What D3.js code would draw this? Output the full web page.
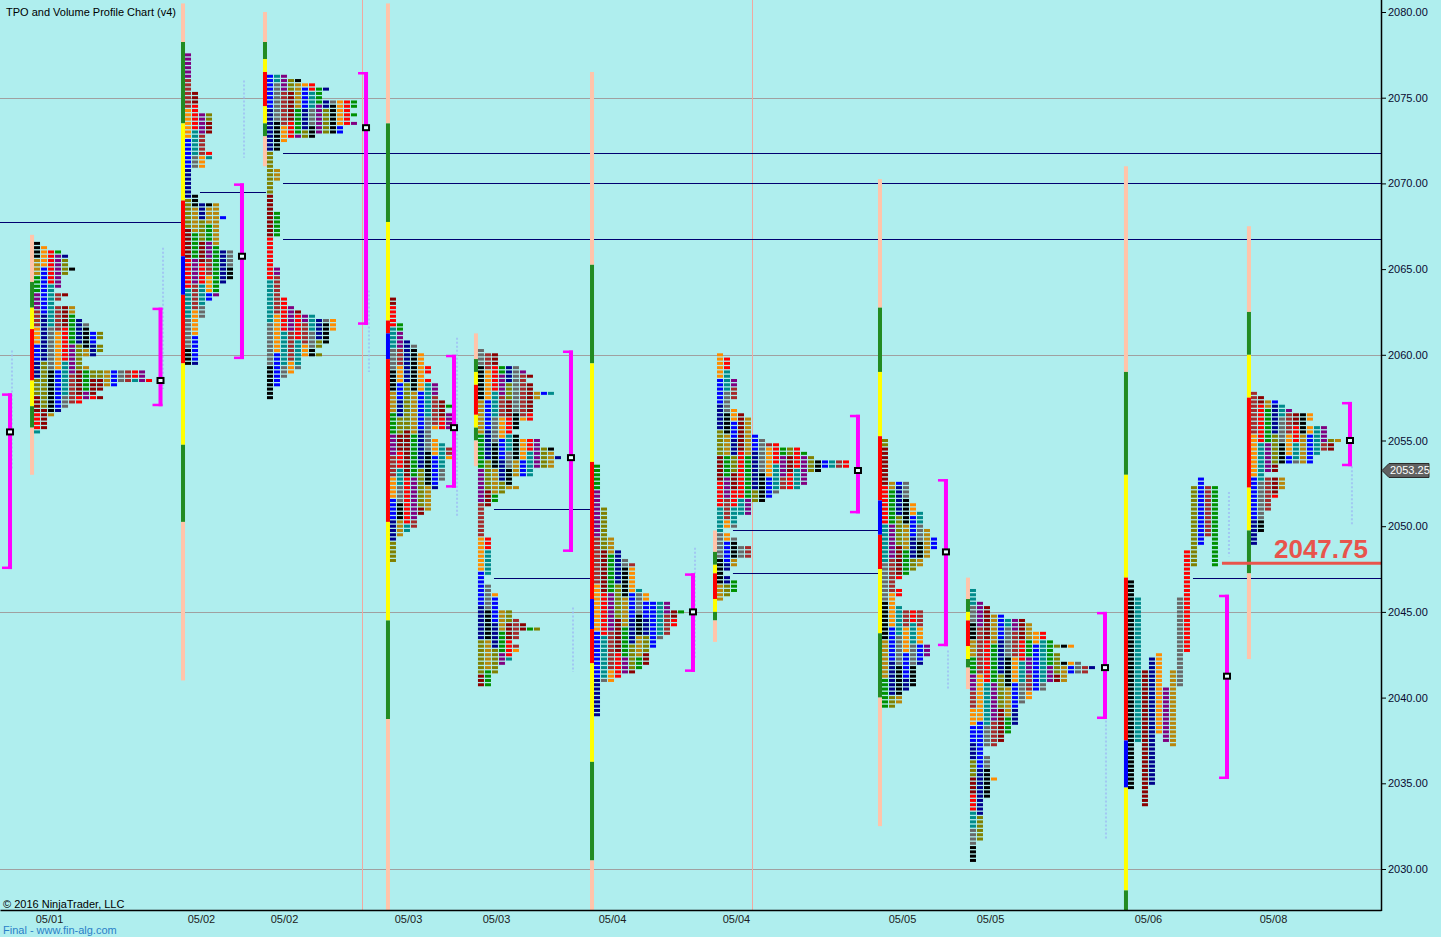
<!DOCTYPE html>
<html><head><meta charset="utf-8">
<script src="https://cdn.jsdelivr.net/npm/d3@7"></script>
<style>
html,body{margin:0;padding:0;background:#AFEEEE;overflow:hidden}
svg{display:block}
text{font-family:"Liberation Sans",Arial,sans-serif}
</style>
</head><body>
<svg id="chart" width="1441" height="937"></svg>
<script>
// ---------------- DATA ----------------
const xTickPos    = [7.0, 28.71, 40.57, 58.29, 70.86, 87.43, 105.14, 128.86, 141.43, 164.0, 181.86];
const xTickLabels = ['05/01','05/02','05/02','05/03','05/03','05/04','05/04','05/05','05/05','05/06','05/08'];
const yTicks      = [2030, 2035, 2040, 2045, 2050, 2055, 2060, 2065, 2070, 2075, 2080];
const gridPrices  = [2030, 2045, 2060, 2075];
const dividerSlots = [51.71, 107.43];

// session position (bar left, in TPO column units)
const sessionSlot = [4.29, 25.86, 37.57, 55.14, 67.71, 84.29, 101.86, 125.43, 138.0, 160.57, 178.14];
// top price of each collapsed profile
const profileTop  = [2066.5, 2077.5, 2076.25, 2063.25, 2060.25, 2053.5, 2060.0, 2055.0, 2046.25, null, 2057.75];

// TPO row widths (number of letters per 0.25 price row, from top down)
const rows1 = [1,2,4,5,5,5,6,5,4,4, 4,3,5,4,3,6,6,6,7,8, 8,10,10,9,10,10,9,7,7,8, 16,16,17,12,10,9,10,7,5,4, 3,2,2,2,1];
const rows2 = [1,1,1,1,1,1,1,1,1, 2,2,2,2,2, 4,4,4,4,4, 3,3,3,3, 4,4, 3,3, 1,1,1,1,1,1, 2,2, 5,5,5, 6, 5,5,5,5,5,5,5, 7,7,7,7,7,7,7, 6, 5,5,5, 4, 3,3,3,3, 2,2,2,2,2,2,2,2,2,2,2];
const rows3 = [3,5,7,9,8,8,13,13,12,13, 12,13,11,11,7,3,2,2,1,1, 1,1,2,2,2,1,1,1,1,1, 1,1,2,2,2,2,2,2,1,1, 1,1,1,1,1,2,2,2,2,2, 2,2,3,3,4,5,7,10,10,10, 9,9,9,8,7,8,5,5,5,4, 3,2,2,1,1,1];
const rows4 = [1,1,1,1,1,1,2,2,2,2, 3,4,4,5,5,5,6,6,5,6, 7,7,7,7,8,9,8,9,9,9, 9,6,6,7,8,9,9,9,8,8, 8,8,8,7,7,6,6,6,6,6, 5,4,4,4,3,2,1,1,1,1, 1,1];
const rows5 = [1,3,3,3,6,7,8,7,8,8, 11,9,8,8,8,8,8,6,6,5, 6,9,9,11,11,12,11,11,8,8, 5,5,6,4,3,3,2,1,1,1, 1,1,1,1,2,2,2,2,2,2, 2,2,2,1,1,2,2,3,3,3, 3,5,5,6,7,9,6,6,5,6, 6,5,5,4,3,3,2,2,2];
const rows6 = [1,1,1,1,1,1,1,1,1,1, 2,2,2,2,2,2,2, 3,3,3, 4,4, 5, 6,6,6,6,6,6, 7, 8,8, 11,11, 13, 12,12,12, 11,11, 10, 9,9, 8,8,8,8, 7, 6, 4, 3, 1,1,1,1,1,1,1,1];
const rows7 = [1,2,2,2,2,2,3,3,3,3, 3,2,2,3,4,5,5,5,5,6, 7,9,12,13,14,19,19,15,13,13, 13,12,9,8,7,5,5,5,3,3, 3,1,2,3,3,5,5,5,3,3, 2,1,2,3,3,3,2,1];
const rows8 = [1,1,1,1,1,1,1,1,1,1, 4,4,4,4,4, 5,5, 6,6,6,6, 7,7, 8,8,8, 7,7, 6,6, 5, 4, 3, 2,2, 3,3, 2,2, 3, 6,6,6,6,6,6,6,6, 7,7,7, 6,6, 5,5,5,5,5, 4, 3,3,3, 2];
const rows9 = [1,1,1,2,3,3,5,8,9,9, 11,11,12,15,12,13,13,16,18,17, 14,14,11,11,9,9,8,7,7,7, 7,7,6,6,5,5,4,2,2,3, 3,3,3,3,4,3,3,3,3,2, 2,2,2,2,2,2,2,2,2,1, 1,1,1,1];
const rows11 = [1,2,4,5,6,9,9,8,11,11, 11,13,12,12,10,9,9,4,4,2, 5,5,5,4,4,3,3,3,2,2, 2,2,2,1,1,1];
// 05/06 profile drawn uncollapsed: one column per period [high, low]
const cols10High = [2046.75, 2045.75, 2041.5, 2042.25, 2042.5, 2040.5, 2041.5, 2045.75, 2048.5, 2052.25, 2052.75, 2052.25, 2052.25];
const cols10Low  = [2034.75, 2037.5, 2033.75, 2035.0, 2038.0, 2037.5, 2037.25, 2040.75, 2042.75, 2047.75, 2049.0, 2049.5, 2047.75];

// session range bars: [start price, segment colour key] ... last entry = end price
const bar1 = [[2067.0,'P'],[2064.25,'G'],[2062.75,'Y'],[2061.5,'R'],[2058.5,'Y'],[2057.0,'G'],[2055.75,'P'],[2053.0,null]];
const bar2 = [[2080.5,'P'],[2078.25,'G'],[2073.5,'Y'],[2069.0,'R'],[2065.75,'B'],[2063.5,'R'],[2059.5,'Y'],[2054.75,'G'],[2050.25,'P'],[2041.0,null]];
const bar3 = [[2080.0,'P'],[2078.25,'G'],[2077.25,'Y'],[2076.5,'R'],[2074.5,'Y'],[2073.5,'G'],[2072.75,'P'],[2071.0,null]];
const bar4 = [[2080.5,'P'],[2073.5,'G'],[2067.75,'Y'],[2062.0,'R'],[2061.25,'B'],[2059.75,'R'],[2050.25,'Y'],[2044.5,'G'],[2038.75,'P'],[2026.0,null]];
const bar5 = [[2061.25,'P'],[2059.75,'G'],[2059.0,'Y'],[2058.25,'R'],[2056.5,'Y'],[2055.75,'G'],[2055.0,'P'],[2053.5,null]];
const bar6 = [[2076.5,'P'],[2065.25,'G'],[2059.5,'Y'],[2053.75,'R'],[2045.75,'B'],[2044.0,'R'],[2042.0,'Y'],[2036.25,'G'],[2030.5,'P'],[2026.0,null]];
const bar7 = [[2049.75,'P'],[2048.5,'G'],[2047.75,'Y'],[2047.25,'R'],[2045.75,'Y'],[2045.0,'G'],[2044.5,'P'],[2043.25,null]];
const bar8 = [[2070.25,'P'],[2062.75,'G'],[2059.0,'Y'],[2055.25,'R'],[2051.5,'B'],[2049.5,'R'],[2047.5,'Y'],[2043.75,'G'],[2040.0,'P'],[2032.5,null]];
const bar9 = [[2047.0,'P'],[2045.75,'G'],[2045.0,'Y'],[2044.5,'R'],[2043.0,'Y'],[2042.25,'G'],[2041.75,'P'],[2040.5,null]];
const bar10 = [[2071.0,'P'],[2059.0,'G'],[2053.0,'Y'],[2047.0,'R'],[2037.5,'B'],[2034.75,'Y'],[2028.75,'G'],[2026.0,null]];
const bar11 = [[2067.5,'P'],[2062.5,'G'],[2060.0,'Y'],[2057.5,'R'],[2052.25,'Y'],[2049.75,'G'],[2047.25,'P'],[2042.25,null]];

// value-area brackets
const bracketSlot = [1.43, 22.93, 34.57, 52.29, 64.86, 81.57, 99.0, 122.57, 135.14, 157.86, 175.29, 192.86];
const bracketHigh = [2057.75, 2062.75, 2070.0, 2076.5, 2060.0, 2060.25, 2047.25, 2056.5, 2052.75, 2045.0, 2046.0, 2057.25];
const bracketLow  = [2047.5, 2057.0, 2059.75, 2061.75, 2052.25, 2048.5, 2041.5, 2050.75, 2043.0, 2038.75, 2035.25, 2053.5];
const bracketPoc  = [2055.5, 2058.5, 2065.75, 2073.25, 2055.75, 2054.0, 2045.0, 2053.25, 2048.5, 2041.75, 2041.25, 2055.0];

// naked POC lines: [from slot, to slot (null = right edge), price]
const pocLines = [[0, 26.14, 2067.75],[28.57, 38.0, 2069.5],[40.43, null, 2071.75],[40.43, null, 2070.0],[40.43, null, 2066.75],
                  [70.57, 84.57, 2051.0],[70.57, 84.57, 2047.0],[104.71, 125.71, 2049.75],[104.71, 125.71, 2047.25],[170.43, null, 2047.0]];
// faint volume traces: [slot, high, low]
const volTraces = [[1.71,2060.25,2053.25],[23.29,2066.25,2058.0],[34.86,2076.0,2071.5],[52.71,2063.75,2059.0],[65.29,2061.0,2050.5],
                   [81.86,2045.25,2041.5],[99.29,2048.75,2042.25],[135.43,2042.75,2040.5],[158.0,2041.0,2031.75],[175.57,2052.0,2048.25],[193.14,2053.5,2050.0]];
const lastPrice = 2053.25;
const refPrice  = 2047.75;
const refSlot   = 174.57;

// ---------------- STYLE ----------------
const PALETTE = ['#000000','#008B8B','#8B0000','#00008B','#FF8C00','#800080','#B8860B','#696969','#FF0000','#808000','#0000FF','#A52A2A','#009000'];
const BARCOL = {P:'#FFC4AA', G:'#228B22', Y:'#FFFF00', R:'#FF0000', B:'#0000FF'};

const rowsList = [rows1, rows2, rows3, rows4, rows5, rows6, rows7, rows8, rows9, null, rows11];
const barsList = [bar1, bar2, bar3, bar4, bar5, bar6, bar7, bar8, bar9, bar10, bar11];

const PLOT_R = 1381, PLOT_B = 910;
const x = d3.scaleLinear().domain([0, 197.29]).range([0, PLOT_R]);
const y = d3.scaleLinear().domain([2030, 2080]).range([869, 12]);
const U = x(1) - x(0);
const BAR_U = 4 / U;
const TICK = 0.25;

const svg = d3.select('#chart');
svg.append('rect').attr('width', 1441).attr('height', 937).attr('fill', '#AFEEEE');
svg.append('defs').append('clipPath').attr('id', 'plot').append('rect')
   .attr('x', 0).attr('y', 0).attr('width', PLOT_R).attr('height', PLOT_B);
const g = svg.append('g').attr('clip-path', 'url(#plot)');

// grid
g.selectAll('line.grid').data(gridPrices).join('line')
  .attr('x1', 0).attr('x2', PLOT_R)
  .attr('y1', d => Math.round(y(d)) + 0.5).attr('y2', d => Math.round(y(d)) + 0.5)
  .attr('stroke', '#A0A0A0').attr('stroke-width', 1);
// session dividers
g.selectAll('line.div').data(dividerSlots).join('line')
  .attr('x1', d => Math.round(x(d)) + 0.5).attr('x2', d => Math.round(x(d)) + 0.5)
  .attr('y1', 0).attr('y2', PLOT_B).attr('stroke', '#F0A8A0').attr('stroke-width', 1);

// faint volume traces
g.selectAll('line.vol').data(volTraces).join('line')
  .attr('x1', d => x(d[0])).attr('x2', d => x(d[0]))
  .attr('y1', d => y(d[1])).attr('y2', d => y(d[2]))
  .attr('stroke', '#9DB8F5').attr('stroke-width', 2).attr('stroke-dasharray', '2,2').attr('opacity', 0.7);

// poc lines
g.selectAll('line.poc').data(pocLines).join('line')
  .attr('x1', d => x(d[0])).attr('x2', d => d[1] === null ? PLOT_R : x(d[1]))
  .attr('y1', d => Math.round(y(d[2])) + 0.5).attr('y2', d => Math.round(y(d[2])) + 0.5)
  .attr('stroke', '#000070').attr('stroke-width', 1);

// session bars
barsList.forEach((bar, i) => {
  const s = sessionSlot[i];
  for (let k = 0; k < bar.length - 1; k++) {
    const y0 = y(bar[k][0]), y1 = y(bar[k + 1][0]);
    g.append('rect').attr('x', x(s)).attr('width', x(s + BAR_U) - x(s))
      .attr('y', y0).attr('height', y1 - y0).attr('fill', BARCOL[bar[k][1]]);
  }
});

// tpo colour pattern (styling only): vertical runs of one period colour per column
function colorFor(s, c, r) {
  const L = 4 + ((c * 7 + s * 3) % 8);
  const k = Math.floor((r + ((c * 5 + s) % L)) / L);
  return PALETTE[(c * 4 + k * 6 + s * 5) % 13];
}

const blocks = [];
rowsList.forEach((rows, i) => {
  if (!rows) return;
  rows.forEach((w, r) => {
    const p = profileTop[i] - r * TICK;
    for (let c = 0; c < w; c++) blocks.push({s: i, c, p, col: colorFor(i, c, r)});
  });
});
cols10High.forEach((hi, c) => {
  for (let p = hi; p >= cols10Low[c] - 1e-9; p -= TICK) blocks.push({s: 9, c, p, col: PALETTE[c]});
});
g.selectAll('rect.tpo').data(blocks).join('rect')
  .attr('x', d => x(sessionSlot[d.s] + BAR_U + d.c))
  .attr('width', U - 1)
  .attr('y', d => y(d.p) - 1.5).attr('height', 3)
  .attr('fill', d => d.col);

// brackets
bracketSlot.forEach((s, i) => {
  const xc = x(s), yt = y(bracketHigh[i]), yb = y(bracketLow[i]);
  g.append('rect').attr('x', xc - 2).attr('width', 4).attr('y', yt).attr('height', yb - yt).attr('fill', '#FF00FF');
  g.append('rect').attr('x', xc - 8).attr('width', 10).attr('y', yt).attr('height', 2.5).attr('fill', '#FF00FF');
  g.append('rect').attr('x', xc - 8).attr('width', 10).attr('y', yb - 2.5).attr('height', 2.5).attr('fill', '#FF00FF');
  const yp = y(bracketPoc[i]);
  g.append('rect').attr('x', xc - 4).attr('width', 8).attr('y', yp - 3.5).attr('height', 7).attr('fill', '#000');
  g.append('rect').attr('x', xc - 2).attr('width', 4).attr('y', yp - 1.5).attr('height', 3).attr('fill', '#E8FFFF');
});

// reference price line + label
svg.append('line').attr('x1', x(refSlot)).attr('x2', PLOT_R + 1)
  .attr('y1', y(refPrice) - 1.5).attr('y2', y(refPrice) - 1.5)
  .attr('stroke', '#E8544C').attr('stroke-width', 3);
svg.append('text').attr('x', x(195.43)).attr('y', y(refPrice) - 7)
  .attr('text-anchor', 'end').attr('font-size', 26).attr('font-weight', 'bold')
  .attr('fill', '#E8544C').text(d3.format('.2f')(refPrice));

// axes
const ay = svg.append('g').attr('transform', `translate(${PLOT_R},0)`)
  .call(d3.axisRight(y).tickValues(yTicks).tickFormat(d3.format('.2f')).tickSize(5).tickPadding(2));
ay.select('.domain').remove();
ay.selectAll('.tick line').attr('stroke', '#000');
ay.selectAll('.tick text').attr('font-size', 11).attr('fill', '#0a0a30').attr('font-family', '"Liberation Sans",Arial,sans-serif');
svg.append('line').attr('x1', PLOT_R + 0.5).attr('x2', PLOT_R + 0.5).attr('y1', 0).attr('y2', PLOT_B + 1)
  .attr('stroke', '#000').attr('stroke-width', 1.5);

const ax = svg.append('g').attr('transform', `translate(0,${PLOT_B})`)
  .call(d3.axisBottom(x).tickValues(xTickPos).tickFormat((d, i) => xTickLabels[i]).tickSize(0).tickPadding(5));
ax.select('.domain').attr('stroke', '#000').attr('stroke-width', 1.5);
ax.selectAll('.tick text').attr('font-size', 11).attr('fill', '#202020').attr('font-family', '"Liberation Sans",Arial,sans-serif');

// last price marker
const yl = y(lastPrice);
svg.append('polygon')
  .attr('points', [[PLOT_R + 1, yl], [PLOT_R + 8, yl - 7], [1429, yl - 7], [1429, yl + 7], [PLOT_R + 8, yl + 7]].map(p => p.join(',')).join(' '))
  .attr('fill', '#616161').attr('stroke', '#2a2a2a').attr('stroke-width', 1);
svg.append('text').attr('x', PLOT_R + 9).attr('y', yl).attr('dy', '0.35em')
  .attr('font-size', 11).attr('fill', '#fff').text(d3.format('.2f')(lastPrice));

// texts
svg.append('text').attr('x', 6).attr('y', 16).attr('font-size', 11).attr('fill', '#000')
  .text('TPO and Volume Profile Chart (v4)');
svg.append('text').attr('x', 3).attr('y', 908).attr('font-size', 11).attr('fill', '#000')
  .text('© 2016 NinjaTrader, LLC');
svg.append('text').attr('x', 3).attr('y', 934).attr('font-size', 11).attr('fill', '#2A80C8')
  .text('Final - www.fin-alg.com');
</script>
</body></html>
